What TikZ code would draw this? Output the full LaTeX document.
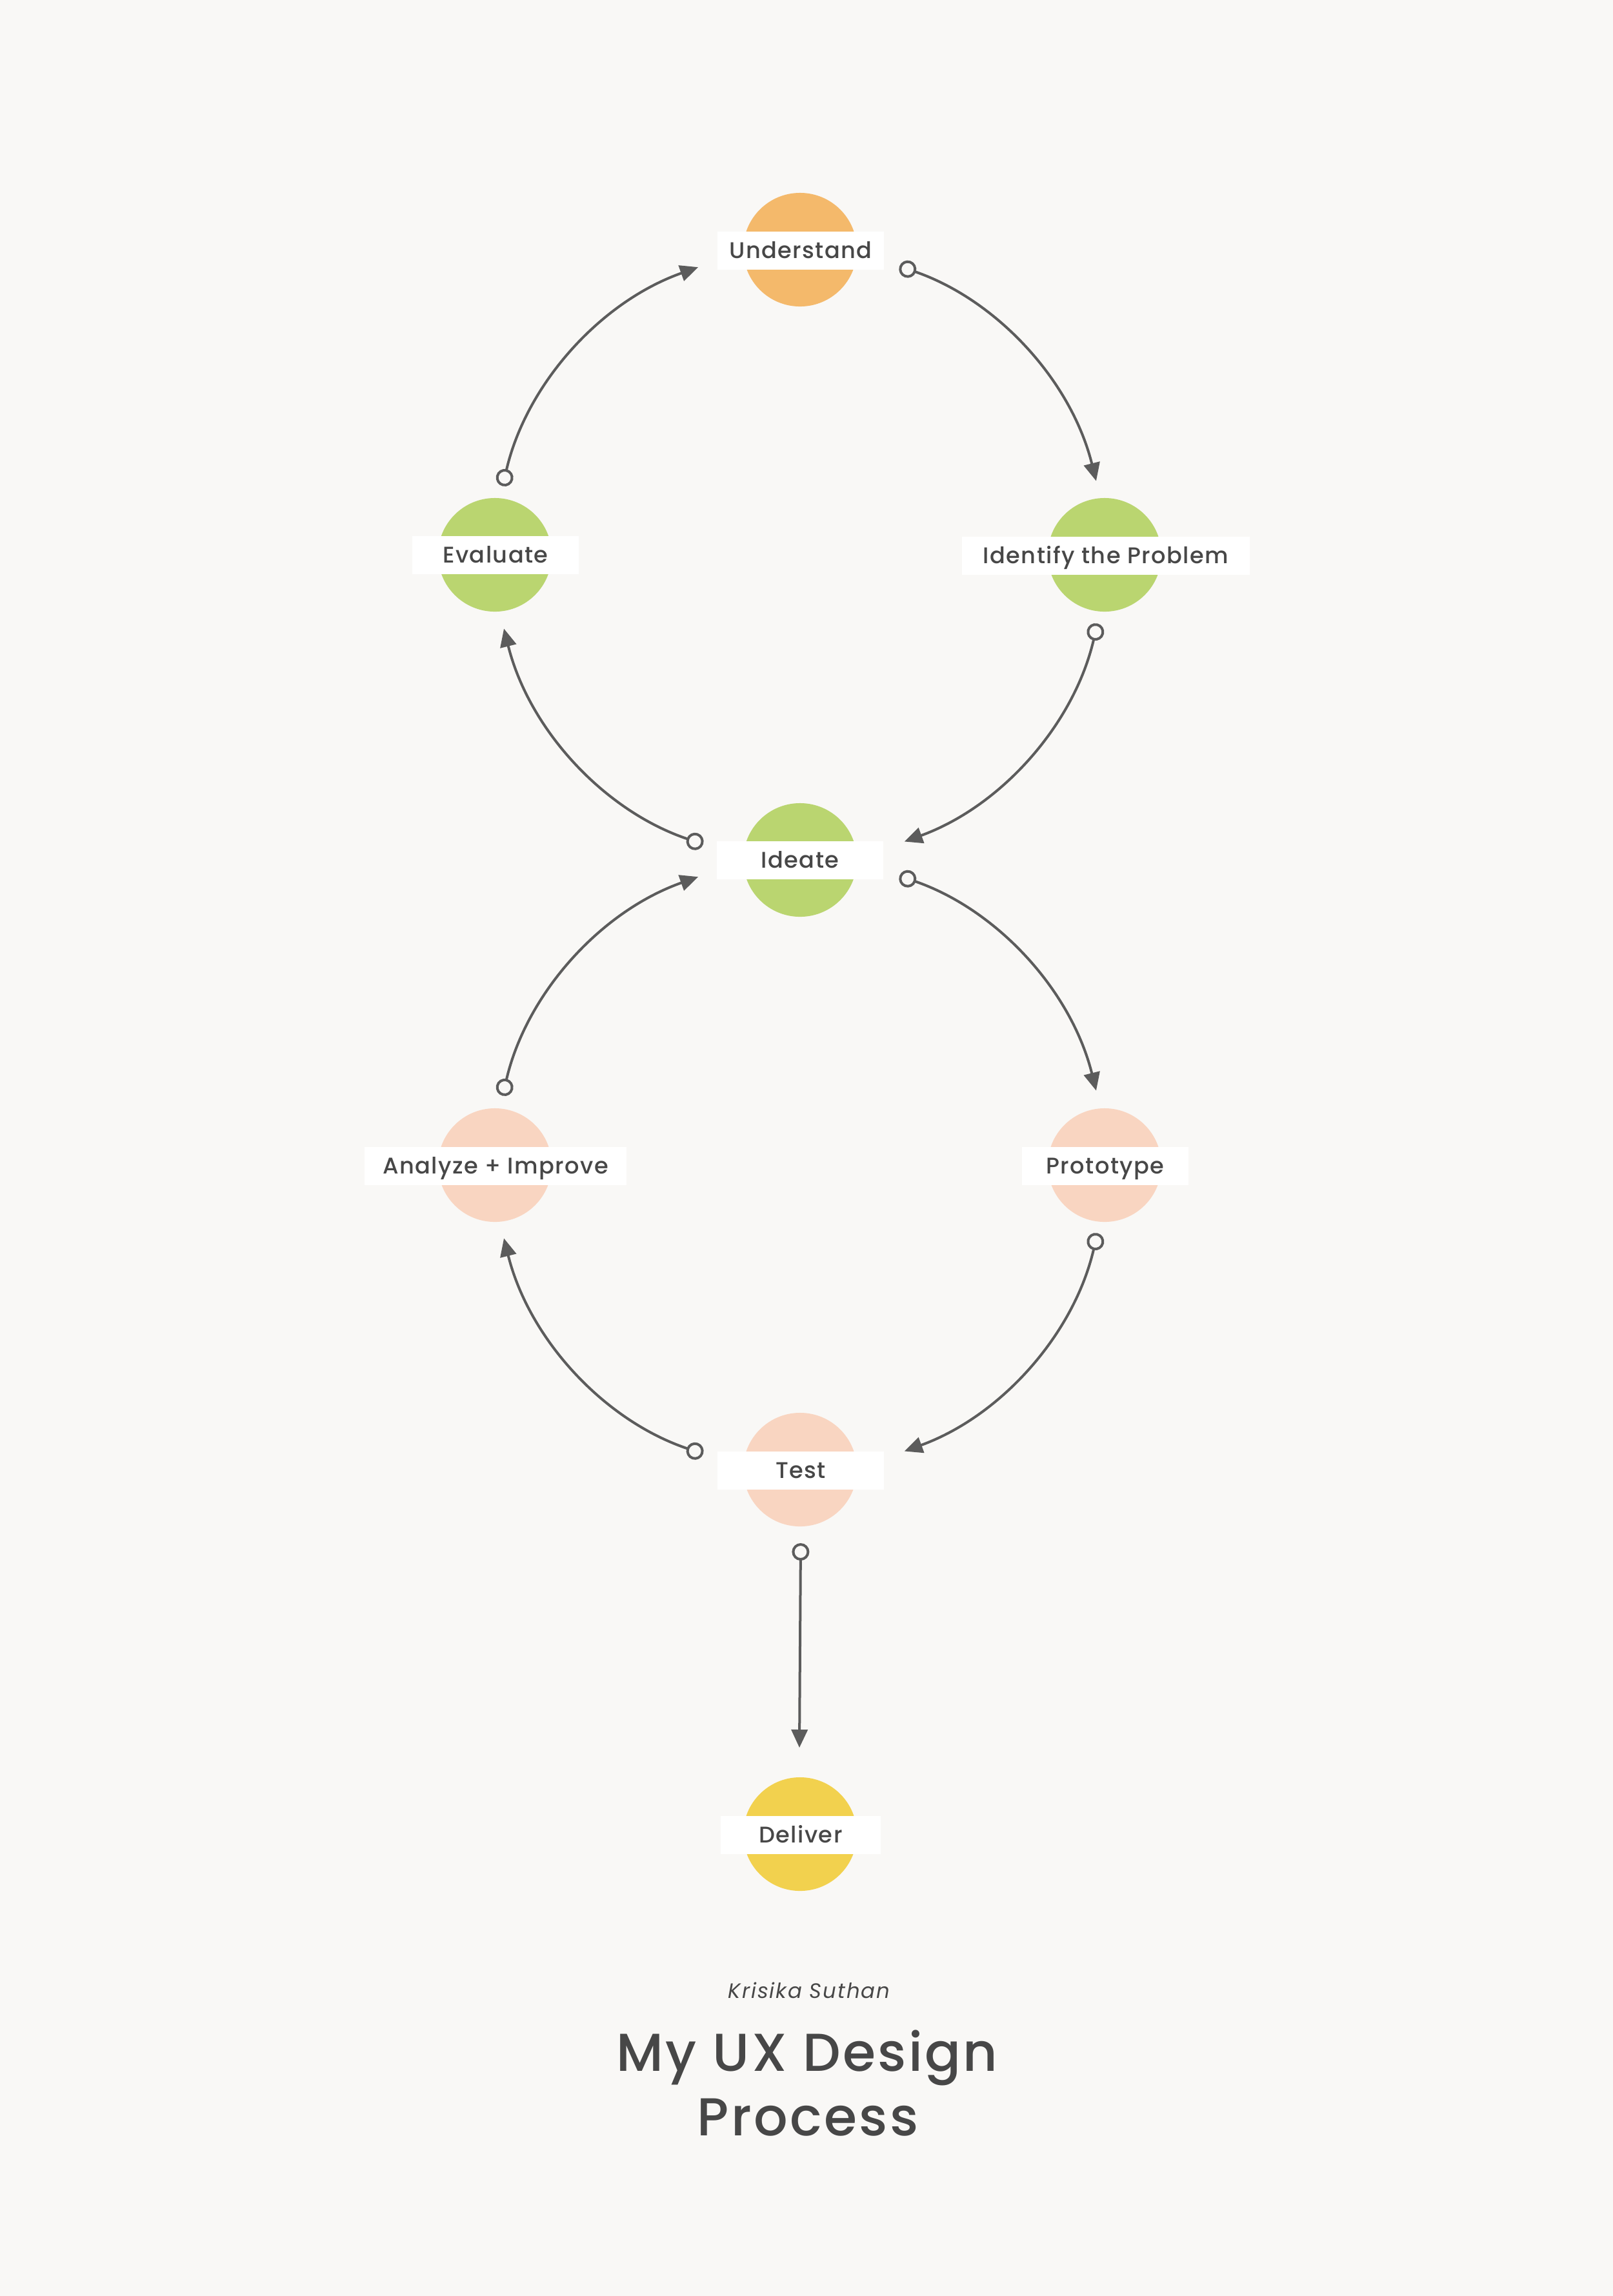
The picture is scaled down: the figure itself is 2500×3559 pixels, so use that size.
\documentclass[tikz,border=0pt]{standalone}
\usepackage{fontspec}
\setmainfont{Poppins}
\newfontfamily\medfont{Poppins Medium}
\usetikzlibrary{arrows.meta}
\definecolor{bg}{HTML}{F9F8F6}
\definecolor{cOrange}{HTML}{F4B96B}
\definecolor{cGreen}{HTML}{BAD570}
\definecolor{cPeach}{HTML}{F9D5C1}
\definecolor{cYellow}{HTML}{F2D14E}
\definecolor{cLine}{HTML}{5C5C5C}
\definecolor{cText}{HTML}{474747}
\begin{document}
\begin{tikzpicture}[x=0.01cm,y=-0.01cm,
  disc/.style={circle, minimum size=1.76cm, inner sep=0pt, fill=#1, draw=none},
  steplabel/.style={fill=white, minimum height=0.59cm, minimum width=#1, inner sep=0pt,
     text height=0.25cm, text depth=0cm, text=cText,
     font=\medfont\fontsize{10pt}{12pt}\selectfont\addfontfeature{LetterSpace=4}},
  steplabel/.default=2.57cm,
  conn/.style={draw=cLine, line width=0.04cm,
     {Circle[open,length=0.27cm,width=0.27cm]}-{Triangle[length=0.28cm,width=0.25cm]}}
]
\useasboundingbox[fill=bg] (0,0) rectangle (2500,3559);

% loop centres
\coordinate (c1) at (1240,860);
\coordinate (c2) at (1240,1805);

% step discs
\node[disc=cOrange] (u) at (1240,387) {};
\node[disc=cGreen]  (e) at (767,860) {};
\node[disc=cGreen]  (p) at (1712,860) {};
\node[disc=cGreen]  (i) at (1240,1333) {};
\node[disc=cPeach]  (a) at (767,1806) {};
\node[disc=cPeach]  (r) at (1712,1806) {};
\node[disc=cPeach]  (t) at (1240,2278) {};
\node[disc=cYellow] (d) at (1240,2843) {};

% labels
\node[steplabel] (ul) at (1241,388) {Understand};
\node[steplabel] (el) at (768,860) {Evaluate};
\node[steplabel=4.46cm] (pl) at (1714,861) {Identify the Problem};
\node[steplabel] (il) at (1240,1333) {Ideate};
\node[steplabel=4.05cm] (al) at (768,1807) {Analyze + Improve};
\node[steplabel] (rl) at (1713,1807) {Prototype};
\node[steplabel] (tl) at (1241,2279) {Test};
\node[steplabel=2.48cm] (dl) at (1241,2844) {Deliver};

% connector end points on the loop circles
\coordinate (s1) at ([shift={(-71:473)}]c1);
\coordinate (s2) at ([shift={(13:473)}]c1);
\coordinate (s3) at ([shift={(108.5:473)}]c1);
\coordinate (s4) at ([shift={(193:473)}]c1);
\coordinate (s5) at ([shift={(-71:473)}]c2);
\coordinate (s6) at ([shift={(13:473)}]c2);
\coordinate (s7) at ([shift={(108.5:473)}]c2);
\coordinate (s8) at ([shift={(193:473)}]c2);
\coordinate (s9) at (1241,2392);
\coordinate (e9) at (1239,2709);

% connectors
\draw[conn] (s1) arc[start angle=-71, end angle=-14, radius=473];
\draw[conn] (s2) arc[start angle=13, end angle=70, radius=473];
\draw[conn] (s3) arc[start angle=108.5, end angle=166, radius=473];
\draw[conn] (s4) arc[start angle=193, end angle=250.5, radius=473];
\draw[conn] (s5) arc[start angle=-71, end angle=-14, radius=473];
\draw[conn] (s6) arc[start angle=13, end angle=70, radius=473];
\draw[conn] (s7) arc[start angle=108.5, end angle=166, radius=473];
\draw[conn] (s8) arc[start angle=193, end angle=250.5, radius=473];
\draw[conn] (s9) -- (e9);

% titles
\node[anchor=base, inner sep=0pt, text=cText,
  font=\fontsize{9.2pt}{11pt}\selectfont\itshape\addfontfeature{LetterSpace=6}] (author) at (1254,3097) {Krisika Suthan};
\node[anchor=base, inner sep=0pt, text=cText,
  font=\medfont\fontsize{23.5pt}{28pt}\selectfont\addfontfeature{LetterSpace=4}] (title1) at (1251,3210) {My UX Design};
\node[anchor=base, inner sep=0pt, text=cText,
  font=\medfont\fontsize{23.5pt}{28pt}\selectfont\addfontfeature{LetterSpace=4}] (title2) at (1252,3310) {Process};
\end{tikzpicture}
\end{document}
